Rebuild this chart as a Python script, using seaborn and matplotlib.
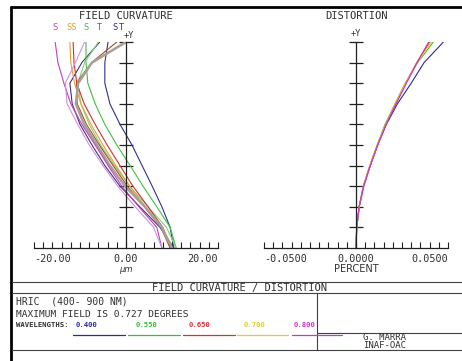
import numpy as np
import pandas as pd
import matplotlib
matplotlib.use("Agg")
import matplotlib.pyplot as plt
import seaborn as sns

# relative field (0 = axis, 1 = +Y max field)
field = [0.0, 0.1, 0.2, 0.3, 0.4, 0.5, 0.6, 0.7, 0.8, 0.9, 1.0]

# field curvature in microns, sagittal / tangential for each wavelength
fc_400_s = [10.4, 7.4, 3.0, -1.3, -4.6, -7.4, -10.0, -11.7, -12.2, -9.6, -5.7]
fc_400_t = [10.4, 9.6, 7.8, 5.7, 3.5, 1.3, -1.3, -3.5, -4.6, -4.6, -3.9]
fc_550_s = [10.9, 9.6, 6.7, 3.7, 0.9, -2.0, -4.6, -6.7, -8.3, -8.7, -8.7]
fc_550_t = [10.9, 8.8, 4.8, 0.8, -2.5, -5.5, -8.0, -9.8, -10.5, -9.0, -6.0]
fc_650_s = [9.6, 8.0, 4.8, 1.5, -1.3, -4.1, -6.7, -9.1, -10.7, -11.3, -11.5]
fc_650_t = [9.6, 7.6, 4.0, 0.3, -2.8, -5.8, -8.6, -10.6, -10.8, -7.5, -2.0]
fc_700_s = [10.0, 7.8, 4.2, 0.8, -2.2, -5.0, -7.6, -9.8, -11.2, -12.0, -12.2]
fc_700_t = [10.0, 7.8, 4.1, -0.2, -3.5, -6.3, -9.1, -10.9, -10.4, -7.4, 0.0]
fc_800_s = [7.8, 6.7, 2.8, -0.9, -3.9, -6.7, -9.6, -12.0, -13.5, -14.8, -15.4]
fc_800_t = [7.8, 6.0, 2.0, -1.8, -5.0, -8.0, -10.5, -12.8, -13.2, -11.0, -9.0]

# distortion in percent
dist_400 = [0, 0.0004, 0.0018, 0.0042, 0.0078, 0.0118, 0.0165, 0.0225, 0.0300, 0.0370, 0.0475]
dist_550 = [0, 0.0004, 0.0017, 0.0040, 0.0075, 0.0115, 0.0158, 0.0212, 0.0268, 0.0335, 0.0420]
dist_650 = [0, 0.0004, 0.0017, 0.0040, 0.0076, 0.0117, 0.0162, 0.0215, 0.0270, 0.0330, 0.0400]
dist_700 = [0, 0.0004, 0.0017, 0.0040, 0.0075, 0.0116, 0.0160, 0.0213, 0.0270, 0.0333, 0.0410]
dist_800 = [0, 0.0004, 0.0017, 0.0041, 0.0077, 0.0118, 0.0163, 0.0218, 0.0274, 0.0332, 0.0395]

wavelengths = ['0.400', '0.550', '0.650', '0.700', '0.800']
wl_colors = ['#2a2a9a', '#30c030', '#d83030', '#e0d020', '#d030d0']

fc_curves = [fc_400_s, fc_400_t, fc_550_s, fc_550_t, fc_650_s,
             fc_650_t, fc_700_s, fc_700_t, fc_800_s, fc_800_t]
fc_colors = ['#453075', '#30309a', '#40c040', '#80d080', '#d03030',
             '#a05020', '#e8a030', '#a8a098', '#c040c0', '#d090e0']
fc_widths = [0.8, 0.8, 0.8, 0.8, 0.8, 0.8, 0.8, 1.8, 0.8, 0.8]
dist_curves = [dist_400, dist_550, dist_650, dist_700, dist_800]

sns.set_style("white")
mono = 'DejaVu Sans Mono'
txt = '#303030'

W, H = 462, 361
fig = plt.figure(figsize=(W / 100, H / 100), dpi=100)


def box(x0, x1, y0, y1):
    # pixel box -> figure fraction rect
    return [x0 / W, (H - y1) / H, (x1 - x0) / W, (y1 - y0) / H]


def setup_axis(ax, lim, minor_step, labels):
    ax.set_xlim(-lim, lim)
    ax.set_ylim(0, 1)
    for s in ['top', 'right']:
        ax.spines[s].set_visible(False)
    ax.spines['left'].set_position(('data', 0))
    for s in ['left', 'bottom']:
        ax.spines[s].set_color('#202020')
        ax.spines[s].set_linewidth(0.9)
    ax.set_yticks(np.arange(0.1, 1.01, 0.1))
    ax.tick_params(axis='y', left=True, direction='inout', length=10, width=0.9,
                   labelleft=False, color='#202020')
    ax.set_xticks([-lim, 0, lim])
    ax.set_xticks(np.arange(-lim, lim + minor_step / 2, minor_step), minor=True)
    ax.set_xticklabels(labels, fontsize=7.3, family=mono, color=txt)
    ax.tick_params(axis='x', which='both', bottom=True, direction='in', length=4,
                   width=0.8, pad=4, color='#202020')
    tl = ax.get_xticklabels()
    tl[0].set_ha('left')
    tl[2].set_ha('right')
    ax.set_xlabel('')
    ax.set_ylabel('')
    ax.grid(False)


# field curvature panel
ax1 = fig.add_axes(box(34, 218, 42, 248))
for vals, c, lw in zip(fc_curves, fc_colors, fc_widths):
    sns.lineplot(x=vals, y=field, sort=False, estimator=None, color=c, lw=lw, ax=ax1)
setup_axis(ax1, 20, 2, ['-20.00', '0.00', '20.00'])

# distortion panel
ax2 = fig.add_axes(box(264, 448, 42, 248))
for vals, c in zip(dist_curves, wl_colors):
    sns.lineplot(x=vals, y=field, sort=False, estimator=None, color=c, lw=0.8, ax=ax2)
setup_axis(ax2, 0.05, 0.005, ['-0.0500', '0.0000', '0.0500'])

# overlay in pixel coordinates for frame and annotation text
fr = fig.add_axes([0, 0, 1, 1], facecolor='none')
fr.set_xlim(0, W)
fr.set_ylim(H, 0)
fr.axis('off')

fr.plot([11, W], [7, 7], color='black', lw=2)
fr.plot([11, 11], [7, H], color='black', lw=2)
for yy in [282, 293, 350]:
    fr.plot([12, W], [yy, yy], color='#404040', lw=0.8)
fr.plot([317, 317], [293, 350], color='#404040', lw=0.8)
fr.plot([317, W], [333, 333], color='#404040', lw=0.8)

fr.text(126, 16, 'FIELD CURVATURE', ha='center', va='center', fontsize=7.5, family=mono, color=txt)
fr.text(356, 16, 'DISTORTION', ha='center', va='center', fontsize=7.5, family=mono, color=txt)
fr.text(129, 35, '+Y', ha='center', va='center', fontsize=6.2, family=mono, color=txt)
fr.text(356, 34, '+Y', ha='center', va='center', fontsize=6.2, family=mono, color=txt)
fr.text(126, 269, 'µm', ha='center', va='center', fontsize=6, color=txt, style='italic')
fr.text(356, 269, 'PERCENT', ha='center', va='center', fontsize=7, color=txt)

# S / T key above the curvature plot
key_text = ['S', 'SS', 'S', 'T', 'S', 'T']
key_x = [55, 72, 86, 99, 115, 121]
key_col = ['#c040c0', '#e8a030', '#40c040', '#606090', '#30309a', '#30309a']
for t, x, c in zip(key_text, key_x, key_col):
    fr.text(x, 27, t, ha='center', va='center', fontsize=6.2, family=mono, color=c)

fr.text(240, 288, 'FIELD CURVATURE / DISTORTION', ha='center', va='center',
        fontsize=7.5, family=mono, color=txt)
fr.text(16, 302, 'HRIC  (400- 900 NM)', ha='left', va='center', fontsize=7, family=mono, color=txt)
fr.text(16, 314.5, 'MAXIMUM FIELD IS 0.727 DEGREES', ha='left', va='center',
        fontsize=6.8, family=mono, color=txt)
fr.text(16, 325, 'WAVELENGTHS:', ha='left', va='center', fontsize=5.2, family=mono,
        color=txt, weight='bold')

wl_x = [87, 147, 200, 255, 305]
wl_line = [(73, 125), (128, 180), (183, 235), (237, 288), (292, 342)]
for w, x, (a, b), c in zip(wavelengths, wl_x, wl_line, wl_colors):
    fr.text(x, 325, w, ha='center', va='center', fontsize=5.2, family=mono, color=c, weight='bold')
    fr.plot([a, b], [335, 335], color=c, lw=0.9)

fr.text(363, 338, 'G. MARRA', ha='left', va='center', fontsize=6.5, family=mono, color=txt)
fr.text(363, 346, 'INAF-OAC', ha='left', va='center', fontsize=6.5, family=mono, color=txt)

fig.savefig('out.png', dpi=100)
